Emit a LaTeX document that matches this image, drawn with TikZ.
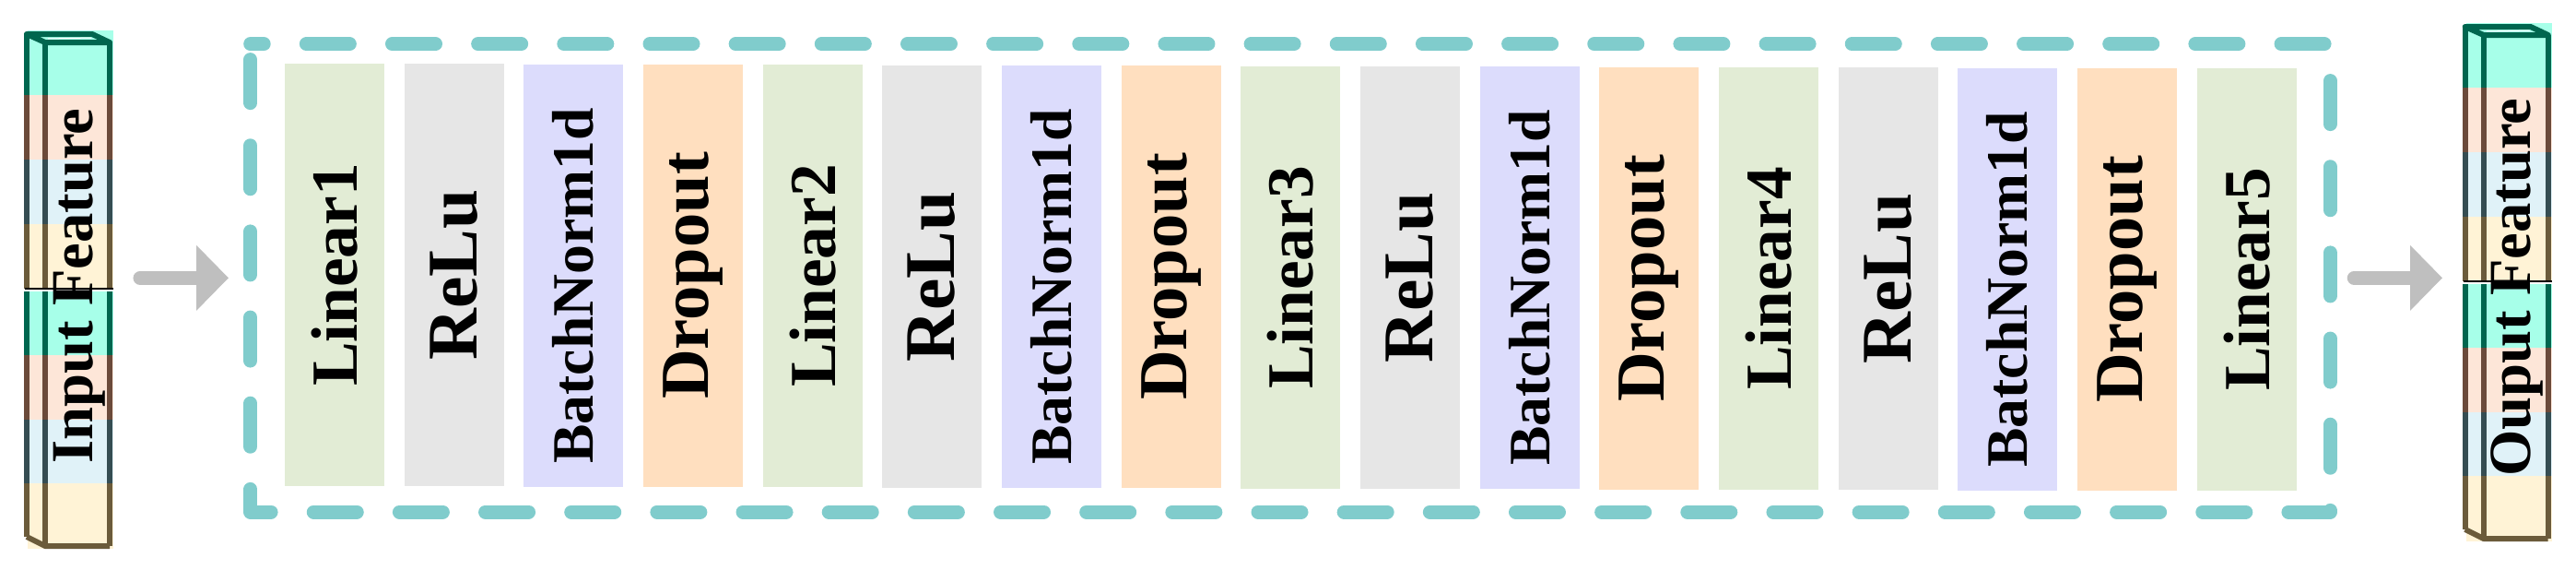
\documentclass[tikz,border=0pt]{standalone}
\usepackage{fontspec}
\setmainfont{Liberation Serif}
\usepackage{xcolor}
\usepackage{tikz}
\usetikzlibrary{calc, arrows.meta, positioning}

\definecolor{linfill}{HTML}{E2ECD5}
\definecolor{relufill}{HTML}{E6E6E6}
\definecolor{normfill}{HTML}{DCDCFC}
\definecolor{dropfill}{HTML}{FFDFBF}
\definecolor{framecol}{HTML}{80CCCC}
\definecolor{arrowgray}{HTML}{BFBFBF}
\definecolor{featA}{HTML}{A7FFE9}
\definecolor{featB}{HTML}{FDE6D8}
\definecolor{featC}{HTML}{E0F2F8}
\definecolor{featD}{HTML}{FFF3D6}
\definecolor{edgeA}{HTML}{00664F}
\definecolor{edgeB}{HTML}{6B4A3A}
\definecolor{edgeC}{HTML}{354D52}
\definecolor{edgeD}{HTML}{6B5B3B}

\begin{document}
\begin{tikzpicture}[auto, >=latex]
		\tikzstyle{layer} = [rotate=90, minimum width=4.575cm, minimum height=1.075cm, inner sep=0pt, text=black]
		\tikzstyle{linbox} = [layer, fill=linfill, font=\bfseries\fontsize{20.3}{24}\selectfont]
		\tikzstyle{relubox} = [layer, fill=relufill, font=\bfseries\fontsize{22}{26}\selectfont]
		\tikzstyle{normbox} = [layer, fill=normfill, font=\bfseries\fontsize{18.1}{21}\selectfont]
		\tikzstyle{dropbox} = [layer, fill=dropfill, font=\bfseries\fontsize{21.2}{25}\selectfont]
		\tikzstyle{feat} = [rotate=90, anchor=base, inner sep=0pt, font=\bfseries\fontsize{18.4}{22}\selectfont]
		\tikzstyle{hold} = [draw=none, inner sep=0pt, outer sep=0pt, minimum width=22.566cm, minimum height=5.073cm]
		\tikzstyle{frame} = [line width=0.15cm, draw=framecol, line cap=round, line join=round, dash pattern=on 0.47cm off 0.4616cm, dash phase=0.325cm]
		\tikzstyle{cube} = [line width=0.06cm, line join=round]
		\tikzstyle{arrow} = [line width=0.15cm, draw=arrowgray, fill=arrowgray, line cap=round, -{Triangle[length=0.35cm, width=0.69cm]}]
		
		\useasboundingbox (0, 0) rectangle (27.95, 6.17);
		
		% feature bars
		\foreach \dx/\dy in {0/0, 26.457/0.08} {
			\begin{scope}[shift={(\dx, \dy)}]
				\foreach \ya/\yb/\fc/\lc in {5.84/5.14/featA/edgeA, 5.14/4.44/featB/edgeB, 4.44/3.74/featC/edgeC, 3.74/3.04/featD/edgeD, 3.01/2.32/featA/edgeA, 2.32/1.62/featB/edgeB, 1.62/0.93/featC/edgeC, 0.93/0.22/featD/edgeD} {
					\fill[\fc] (0.30, \ya) rectangle (1.23, \yb);
					\draw[cube, \lc] (0.29, {min(\ya, 5.80)}) -- (0.29, {max(\yb, 0.35)})
					(0.49, {min(\ya, 5.71)}) -- (0.49, {max(\yb, 0.25)})
					(1.19, {min(\ya, 5.71)}) -- (1.19, {max(\yb, 0.25)});
				}
				\draw[cube, edgeA] (0.49, 5.71) -- (0.29, 5.80) -- (1.00, 5.80) -- (1.19, 5.71) -- cycle;
				\draw[white, line width=0.01cm] (0.52, 5.75) -- (0.99, 5.76);
				\draw[cube, edgeD] (0.29, 0.35) -- (0.49, 0.25) -- (1.19, 0.25);
				\fill[black] (0.27, 3.055) rectangle (1.23, 3.03);
				\fill[white] (0.36, 3.03) rectangle (1.14, 3.01);
			\end{scope}
		}
		
		\node[feat] 	at (1.00, 3.07)		(infeat) 	{Input Feature};
		\node[feat] 	at (27.45, 3.053)	(outfeat) 	{Ouput Feature};
		
		% dashed frame
		\node[hold] 	at (14.00, 3.1565)	(mlp) 	{};
		\draw[frame] (mlp.north west) -- (mlp.north east) -- (mlp.south east) -- (mlp.south west) -- cycle;
		
		% layers
		\node[linbox] 	at (3.63, 3.19)		(lin1) 	{Linear1};
		\node[relubox] 	at (4.93, 3.19)		(relu1) 	{ReLu};
		\node[normbox] 	at (6.22, 3.18)		(bn1) 	{BatchNorm1d\hspace*{0.22cm}};
		\node[dropbox] 	at (7.52, 3.18)		(drop1) 	{Dropout};
		\node[linbox] 	at (8.82, 3.18)		(lin2) 	{Linear2};
		\node[relubox] 	at (10.11, 3.17)	(relu2) 	{ReLu};
		\node[normbox] 	at (11.41, 3.17)	(bn2) 	{BatchNorm1d\hspace*{0.22cm}};
		\node[dropbox] 	at (12.71, 3.17)	(drop2) 	{Dropout};
		\node[linbox] 	at (14.00, 3.16)	(lin3) 	{Linear3};
		\node[relubox] 	at (15.30, 3.16)	(relu3) 	{ReLu};
		\node[normbox] 	at (16.60, 3.16)	(bn3) 	{BatchNorm1d\hspace*{0.22cm}};
		\node[dropbox] 	at (17.89, 3.15)	(drop3) 	{Dropout};
		\node[linbox] 	at (19.19, 3.15)	(lin4) 	{Linear4};
		\node[relubox] 	at (20.49, 3.15)	(relu4) 	{ReLu};
		\node[normbox] 	at (21.78, 3.14)	(bn4) 	{BatchNorm1d\hspace*{0.22cm}};
		\node[dropbox] 	at (23.08, 3.14)	(drop4) 	{Dropout};
		\node[linbox] 	at (24.38, 3.14)	(lin5) 	{Linear5};
		
		% flow arrows
		\draw[arrow, shorten <=0.375cm, shorten >=0.237cm] (infeat.south |- mlp.west) -- (mlp.west);
		\draw[arrow, shorten <=0.259cm, shorten >=0.515cm] (mlp.east) -- (mlp.east -| outfeat.north);
	\end{tikzpicture}
\end{document}
